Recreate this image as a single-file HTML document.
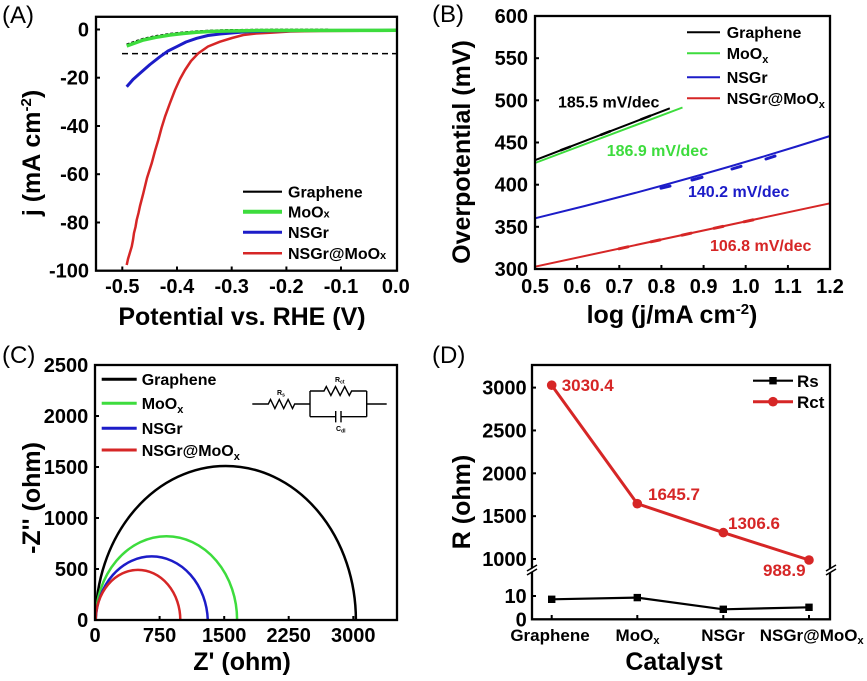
<!DOCTYPE html>
<html><head><meta charset="utf-8"><style>
html,body{margin:0;padding:0;background:#fff;}
svg{display:block;}
text{font-family:"Liberation Sans",Arial,sans-serif;font-weight:bold;fill:#000;}
.pl{font-weight:normal;font-size:24px;}
.tk{font-size:20px;}
.ax{font-size:25px;}
.lg{font-size:16px;}
</style></head><body>
<svg width="867" height="681" viewBox="0 0 867 681" xmlns="http://www.w3.org/2000/svg">
<rect width="867" height="681" fill="#fff"/>

<!-- ================= PANEL A ================= -->
<text class="pl" x="2" y="23">(A)</text>
<line x1="122" y1="53.6" x2="396" y2="53.6" stroke="#000" stroke-width="1.5" stroke-dasharray="6,4"/>
<polyline fill="none" stroke="#d62626" stroke-width="2.5" stroke-linejoin="round" points="126.7,265 128,259 129.5,254 131.7,246.7 133,240 134,233 135.5,227 136.7,220 138.5,213 140,206 143.3,193.3 147,178 151.7,163.3 155,151 158.3,140 161.5,128 165,116.7 170,103 175,90 180,79 185,70 191,61 198.3,53.3 208,46.5 220,41.7 232,38 243.3,35 256,33.5 270,32.7 290,31.5 320,31 397,30.5"/>
<polyline fill="none" stroke="#1c1cc8" stroke-width="3" stroke-linejoin="round" points="126.7,86.7 133,79.5 140,73.3 150,64.5 160,56.7 168,51 176.7,46.7 186,42 196.7,38.3 208,35.5 220,34 243,32 270,31 300,30.5 397,30.3"/>
<polyline fill="none" stroke="#000" stroke-width="2" stroke-dasharray="3,2" points="126.7,44.5 135,41.5 143.3,38.7 156,36 170,33.8 183,32.4 196.7,31.3 210,30.6 226.7,30.1 260,29.7 330,29.6"/>
<polyline fill="none" stroke="#3ddc3d" stroke-width="3.5" stroke-linejoin="round" points="126.7,46 135,43 143.3,40 156,37.3 170,35 183,33.5 196.7,32.3 210,31.5 226.7,31 260,30.5 397,30.3"/>
<rect x="96" y="16.8" width="301" height="253.9" fill="none" stroke="#000" stroke-width="2.3"/>
<g stroke="#000" stroke-width="2">
<line x1="96" y1="29.5" x2="100" y2="29.5"/><line x1="96" y1="77.7" x2="100" y2="77.7"/><line x1="96" y1="126" x2="100" y2="126"/><line x1="96" y1="174.2" x2="100" y2="174.2"/><line x1="96" y1="222.5" x2="100" y2="222.5"/>
<line x1="122.3" y1="270.7" x2="122.3" y2="266.5"/><line x1="177" y1="270.7" x2="177" y2="266.5"/><line x1="231.7" y1="270.7" x2="231.7" y2="266.5"/><line x1="286.4" y1="270.7" x2="286.4" y2="266.5"/><line x1="341" y1="270.7" x2="341" y2="266.5"/>
</g>
<g text-anchor="end">
<text class="tk" x="89" y="36.5">0</text><text class="tk" x="89" y="84.7">-20</text><text class="tk" x="89" y="133">-40</text><text class="tk" x="89" y="181.2">-60</text><text class="tk" x="89" y="229.5">-80</text><text class="tk" x="89" y="277.7">-100</text>
</g>
<g text-anchor="middle">
<text class="tk" x="122.3" y="293">-0.5</text><text class="tk" x="177" y="293">-0.4</text><text class="tk" x="231.7" y="293">-0.3</text><text class="tk" x="286.4" y="293">-0.2</text><text class="tk" x="341" y="293">-0.1</text><text class="tk" x="395.8" y="293">0.0</text>
</g>
<text class="ax" x="242" y="325" text-anchor="middle">Potential vs. RHE (V)</text>
<text class="ax" transform="translate(40,153) rotate(-90)" text-anchor="middle">j (mA cm<tspan font-size="15" dy="-9">-2</tspan><tspan dy="9">)</tspan></text>
<line x1="243" y1="191.7" x2="282" y2="191.7" stroke="#000" stroke-width="2.2"/>
<line x1="243" y1="211.7" x2="282" y2="211.7" stroke="#3ddc3d" stroke-width="4"/>
<line x1="243" y1="232.3" x2="282" y2="232.3" stroke="#1c1cc8" stroke-width="3"/>
<line x1="243" y1="253.3" x2="282" y2="253.3" stroke="#d62626" stroke-width="2.5"/>
<text class="lg" x="288" y="197.5">Graphene</text>
<text class="lg" x="288" y="217.5">MoO<tspan font-size="11">x</tspan></text>
<text class="lg" x="288" y="238">NSGr</text>
<text class="lg" x="288" y="259">NSGr@MoO<tspan font-size="11">x</tspan></text>

<!-- ================= PANEL B ================= -->
<text class="pl" x="432" y="22">(B)</text>
<line x1="535" y1="160.2" x2="669.8" y2="108.3" stroke="#000" stroke-width="2"/>
<line x1="535" y1="163" x2="682.5" y2="107.5" stroke="#3ddc3d" stroke-width="2"/>
<path d="M535,218.3 Q682.5,182.9 830,136" fill="none" stroke="#1c1cc8" stroke-width="2"/>
<line x1="535" y1="266.7" x2="830" y2="203.3" stroke="#d62626" stroke-width="2"/>
<g stroke-width="3" stroke-linecap="round">
<line x1="661" y1="188.2" x2="670" y2="186.1" stroke="#1c1cc8"/>
<line x1="692" y1="180" x2="702" y2="177.3" stroke="#1c1cc8"/>
<line x1="732" y1="169" x2="741" y2="166.3" stroke="#1c1cc8"/>
<line x1="766" y1="159" x2="775" y2="156.1" stroke="#1c1cc8"/>
<line x1="619" y1="248.8" x2="628" y2="246.8" stroke="#d62626"/>
<line x1="651" y1="241.8" x2="660" y2="239.9" stroke="#d62626"/>
<line x1="682" y1="235.2" x2="691" y2="233.2" stroke="#d62626"/>
<line x1="714" y1="228.3" x2="723" y2="226.4" stroke="#d62626"/>
<line x1="744" y1="221.8" x2="753" y2="219.9" stroke="#d62626"/>
<line x1="561" y1="150.2" x2="570" y2="146.8" stroke="#000" stroke-width="2.6"/>
<line x1="601" y1="134.8" x2="610" y2="131.3" stroke="#000" stroke-width="2.6"/>
<line x1="641" y1="119.4" x2="650" y2="115.9" stroke="#000" stroke-width="2.6"/>
</g>
<rect x="535" y="16" width="295" height="253" fill="none" stroke="#000" stroke-width="2.3"/>
<g stroke="#000" stroke-width="2">
<line x1="535" y1="58.2" x2="539" y2="58.2"/><line x1="535" y1="100.3" x2="539" y2="100.3"/><line x1="535" y1="142.5" x2="539" y2="142.5"/><line x1="535" y1="184.7" x2="539" y2="184.7"/><line x1="535" y1="226.8" x2="539" y2="226.8"/>
<line x1="577.1" y1="269" x2="577.1" y2="265"/><line x1="619.3" y1="269" x2="619.3" y2="265"/><line x1="661.4" y1="269" x2="661.4" y2="265"/><line x1="703.6" y1="269" x2="703.6" y2="265"/><line x1="745.7" y1="269" x2="745.7" y2="265"/><line x1="787.9" y1="269" x2="787.9" y2="265"/>
</g>
<g text-anchor="end">
<text class="tk" x="528" y="23">600</text><text class="tk" x="528" y="65.2">550</text><text class="tk" x="528" y="107.3">500</text><text class="tk" x="528" y="149.5">450</text><text class="tk" x="528" y="191.7">400</text><text class="tk" x="528" y="233.8">350</text><text class="tk" x="528" y="276">300</text>
</g>
<g text-anchor="middle">
<text class="tk" x="535" y="293">0.5</text><text class="tk" x="577.1" y="293">0.6</text><text class="tk" x="619.3" y="293">0.7</text><text class="tk" x="661.4" y="293">0.8</text><text class="tk" x="703.6" y="293">0.9</text><text class="tk" x="745.7" y="293">1.0</text><text class="tk" x="787.9" y="293">1.1</text><text class="tk" x="830" y="293">1.2</text>
</g>
<text class="ax" x="672" y="323" text-anchor="middle">log (j/mA cm<tspan font-size="15" dy="-9">-2</tspan><tspan dy="9">)</tspan></text>
<text class="ax" transform="translate(470,152) rotate(-90)" text-anchor="middle">Overpotential (mV)</text>
<line x1="687" y1="32.3" x2="720" y2="32.3" stroke="#000" stroke-width="2"/>
<line x1="687" y1="53.3" x2="720" y2="53.3" stroke="#3ddc3d" stroke-width="2"/>
<line x1="687" y1="77.3" x2="720" y2="77.3" stroke="#1c1cc8" stroke-width="2"/>
<line x1="687" y1="98.3" x2="720" y2="98.3" stroke="#d62626" stroke-width="2"/>
<text class="lg" x="726.7" y="38">Graphene</text>
<text class="lg" x="726.7" y="59">MoO<tspan font-size="11" dy="4">x</tspan></text>
<text class="lg" x="726.7" y="83">NSGr</text>
<text class="lg" x="726.7" y="104">NSGr@MoO<tspan font-size="11" dy="4">x</tspan></text>
<text class="lg" x="558" y="107.5">185.5 mV/dec</text>
<text class="lg" x="606.7" y="156" style="fill:#3ddc3d">186.9 mV/dec</text>
<text class="lg" x="688" y="197" style="fill:#1c1cc8">140.2 mV/dec</text>
<text class="lg" x="710" y="251" style="fill:#d62626">106.8 mV/dec</text>

<!-- ================= PANEL C ================= -->
<text class="pl" x="2" y="363">(C)</text>
<path d="M95.7,620 A130.1 154.1 0 0 1 355.9,620" fill="none" stroke="#000" stroke-width="2.5"/>
<path d="M95.7,620 A70.7 83.7 0 0 1 237.1,620" fill="none" stroke="#3ddc3d" stroke-width="2.5"/>
<path d="M95.7,620 A56.1 66.4 0 0 1 207.8,620" fill="none" stroke="#1c1cc8" stroke-width="2.5"/>
<path d="M95.7,620 A42.3 50.1 0 0 1 180.3,620" fill="none" stroke="#d62626" stroke-width="2.5"/>
<rect x="95" y="365" width="302" height="255" fill="none" stroke="#000" stroke-width="2.3"/>
<g stroke="#000" stroke-width="2">
<line x1="95" y1="569" x2="99" y2="569"/><line x1="95" y1="518" x2="99" y2="518"/><line x1="95" y1="467" x2="99" y2="467"/><line x1="95" y1="416" x2="99" y2="416"/>
<line x1="159.6" y1="620" x2="159.6" y2="616"/><line x1="224.2" y1="620" x2="224.2" y2="616"/><line x1="288.7" y1="620" x2="288.7" y2="616"/><line x1="353.3" y1="620" x2="353.3" y2="616"/>
</g>
<g text-anchor="end">
<text class="tk" x="88.3" y="627">0</text><text class="tk" x="88.3" y="576">500</text><text class="tk" x="88.3" y="525">1000</text><text class="tk" x="88.3" y="474">1500</text><text class="tk" x="88.3" y="423">2000</text><text class="tk" x="88.3" y="372">2500</text>
</g>
<g text-anchor="middle">
<text class="tk" x="95" y="642">0</text><text class="tk" x="159.6" y="642">750</text><text class="tk" x="224.2" y="642">1500</text><text class="tk" x="288.7" y="642">2250</text><text class="tk" x="353.3" y="642">3000</text>
</g>
<text class="ax" x="242" y="670" text-anchor="middle">Z' (ohm)</text>
<text class="ax" transform="translate(40,498) rotate(-90)" text-anchor="middle">-Z'' (ohm)</text>
<line x1="101.7" y1="379.3" x2="136.7" y2="379.3" stroke="#000" stroke-width="3"/>
<line x1="101.7" y1="403.3" x2="136.7" y2="403.3" stroke="#3ddc3d" stroke-width="3"/>
<line x1="101.7" y1="428.3" x2="136.7" y2="428.3" stroke="#1c1cc8" stroke-width="3"/>
<line x1="101.7" y1="450" x2="136.7" y2="450" stroke="#d62626" stroke-width="3"/>
<text class="lg" x="141.7" y="385">Graphene</text>
<text class="lg" x="141.7" y="409">MoO<tspan font-size="11" dy="4">x</tspan></text>
<text class="lg" x="141.7" y="434">NSGr</text>
<text class="lg" x="141.7" y="456">NSGr@MoO<tspan font-size="11" dy="4">x</tspan></text>
<g fill="none" stroke="#000" stroke-width="1.4" stroke-linejoin="miter">
<path d="M252.3,404 H268.3 l2.2,-4.5 l4.4,9 l4.4,-9 l4.4,9 l4.4,-9 l4.4,9 l2.2,-4.5 H310"/>
<path d="M310,391 V416.7"/>
<path d="M310,391 H324 l2.3,-4.5 l4.6,9 l4.6,-9 l4.6,9 l4.6,-9 l4.6,9 l2.3,-4.5 H366.7"/>
<path d="M310,416.7 H335.7 M341,416.7 H366.7"/>
<path d="M335.7,411 V422.4 M341,411 V422.4"/>
<path d="M366.7,391 V416.7 M366.7,404 H386.7"/>
</g>
<text x="277" y="395" font-size="7">R<tspan font-size="5" dy="1.5">s</tspan></text>
<text x="335" y="382" font-size="7">R<tspan font-size="5" dy="1.5">ct</tspan></text>
<text x="336" y="431" font-size="7">C<tspan font-size="5" dy="1.5">dl</tspan></text>

<!-- ================= PANEL D ================= -->
<text class="pl" x="432" y="363">(D)</text>
<rect x="532" y="365" width="298" height="254.3" fill="none" stroke="#000" stroke-width="2.3"/>
<g>
<polygon points="527,572 537,566 537,569 527,575" fill="#fff"/>
<polygon points="825,572 836,566 836,569 825,575" fill="#fff"/>
<g stroke="#000" stroke-width="1.6">
<line x1="527" y1="571" x2="537" y2="565"/><line x1="527" y1="575" x2="537" y2="569"/>
<line x1="826" y1="571" x2="836" y2="565"/><line x1="826" y1="575" x2="836" y2="569"/>
</g>
</g>
<g stroke="#000" stroke-width="2">
<line x1="532" y1="387.6" x2="536" y2="387.6"/><line x1="532" y1="430.45" x2="536" y2="430.45"/><line x1="532" y1="473.3" x2="536" y2="473.3"/><line x1="532" y1="516.15" x2="536" y2="516.15"/><line x1="532" y1="559" x2="536" y2="559"/><line x1="532" y1="596" x2="536" y2="596"/>
<line x1="551.7" y1="619.3" x2="551.7" y2="615"/><line x1="637.3" y1="619.3" x2="637.3" y2="615"/><line x1="723.3" y1="619.3" x2="723.3" y2="615"/><line x1="809" y1="619.3" x2="809" y2="615"/>
</g>
<polyline points="551.7,385.2 637.3,503.7 723.3,532.6 809,560" fill="none" stroke="#d62626" stroke-width="3"/>
<g fill="#d62626">
<circle cx="551.7" cy="385.2" r="4.8"/><circle cx="637.3" cy="503.7" r="4.8"/><circle cx="723.3" cy="532.6" r="4.8"/><circle cx="809" cy="560" r="4.8"/>
</g>
<polyline points="551.7,599.3 637.3,597.6 723.3,609.3 809,607.3" fill="none" stroke="#000" stroke-width="2.2"/>
<g fill="#000">
<rect x="548" y="595.6" width="7.4" height="7.4"/><rect x="633.6" y="593.9" width="7.4" height="7.4"/><rect x="719.6" y="605.6" width="7.4" height="7.4"/><rect x="805.3" y="603.6" width="7.4" height="7.4"/>
</g>
<g text-anchor="end">
<text class="tk" x="526.7" y="394.6" font-size="21">3000</text><text class="tk" x="526.7" y="437.5">2500</text><text class="tk" x="526.7" y="480.3">2000</text><text class="tk" x="526.7" y="523.2">1500</text><text class="tk" x="526.7" y="566">1000</text><text class="tk" x="526.7" y="603">10</text><text class="tk" x="526.7" y="626.3">0</text>
</g>
<g text-anchor="middle" font-size="17">
<text x="550" y="641">Graphene</text>
<text x="637.5" y="641">MoO<tspan font-size="11" dy="3">x</tspan></text>
<text x="723" y="641">NSGr</text>
<text x="811.7" y="641">NSGr@MoO<tspan font-size="11" dy="3">x</tspan></text>
</g>
<text class="ax" x="674" y="670" text-anchor="middle">Catalyst</text>
<text class="ax" transform="translate(470,502) rotate(-90)" text-anchor="middle">R (ohm)</text>
<g font-size="17">
<text x="561.7" y="391" style="fill:#d62626">3030.4</text>
<text x="648" y="500" style="fill:#d62626">1645.7</text>
<text x="728" y="529" style="fill:#d62626">1306.6</text>
<text x="763" y="576" style="fill:#d62626">988.9</text>
</g>
<line x1="753" y1="380.7" x2="793" y2="380.7" stroke="#000" stroke-width="2.2"/>
<rect x="769.3" y="377" width="7.4" height="7.4" fill="#000"/>
<line x1="753" y1="401.7" x2="793" y2="401.7" stroke="#d62626" stroke-width="3"/>
<circle cx="773" cy="401.7" r="4.8" fill="#d62626"/>
<text x="797" y="387" font-size="17">Rs</text>
<text x="797" y="408" font-size="17">Rct</text>
</svg>
</body></html>
